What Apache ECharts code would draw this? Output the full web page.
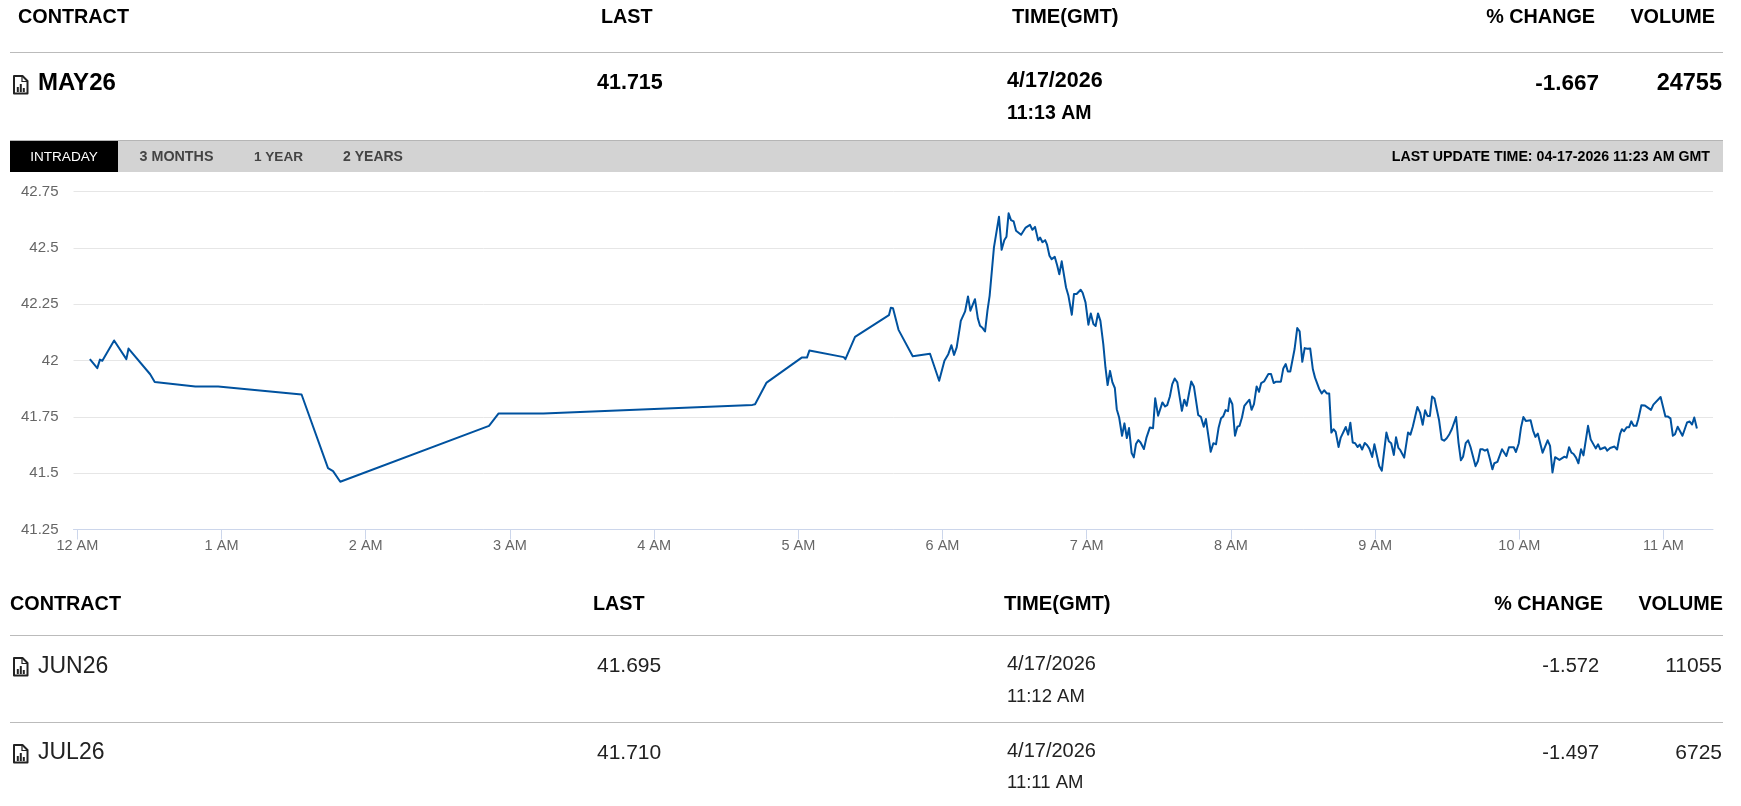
<!DOCTYPE html>
<html><head><meta charset="utf-8">
<style>html,body{margin:0;padding:0;background:#fff;overflow:hidden}#c{width:1741px;height:806px}</style>
<script src="https://cdn.jsdelivr.net/npm/echarts@6/dist/echarts.min.js"></script>
</head><body><div id="c"></div>
<script>
const columns = ["CONTRACT","LAST","TIME(GMT)","% CHANGE","VOLUME"];
const contracts = ["MAY26","JUN26","JUL26"];
const lastPrices = ["41.715","41.695","41.710"];
const tradeDates = ["4/17/2026","4/17/2026","4/17/2026"];
const tradeTimes = ["11:13 AM","11:12 AM","11:11 AM"];
const pctChanges = ["-1.667","-1.572","-1.497"];
const volumes = ["24755","11055","6725"];
const tabs = ["INTRADAY","3 MONTHS","1 YEAR","2 YEARS"];
const updateText = "LAST UPDATE TIME: 04-17-2026 11:23 AM GMT";
const hourTicks = [0,60,120,180,240,300,360,420,480,540,600,660];
const hourLabels = ["12 AM","1 AM","2 AM","3 AM","4 AM","5 AM","6 AM","7 AM","8 AM","9 AM","10 AM","11 AM"];
const minutes = [5.2,8.3,9.4,10.4,15.3,20.4,21.3,30.3,32.2,49.1,58.6,93.3,104.3,106.4,109.4,171.3,175.3,193.9,280.9,282,286.8,301.4,303.6,304.6,318.9,319.6,323.6,337.7,338.5,339.4,341.7,347.6,354.8,358.6,360.8,362.4,363.7,364.8,365.9,
367.3,367.6,369.4,370.6,371.6,373.5,374.7,375.6,376.7,377.7,378.7,379.6,381.4,383.5,384.6,385.7,386.6,387.5,388.5,389.6,390.6,392.7,394.6,396.4,397.4,398.5,399.8,400.6,401.6,402.7,403.5,404.5,405.4,406.7,407.7,408.6,409.6,411.4,412.4,413.8,414.7,415.8,417.5,418.3,419.5,420.7,421.7,422.8,423.7,424.7,425.7,426.9,427.8,428.7,429.7,430.7,431.7,432.5,433.5,434.7,435.7,436.7,437.6,438.7,439.6,
440.5,441.5,442.4,443.8,444.9,446.3,447.6,448.5,449.7,451.5,452.6,453.5,454.6,455.6,456.6,457.7,459.6,460.6,461.6,463.5,464.6,466.4,467.5,468.7,469.6,471.6,472.7,473.8,474.9,475.9,476.8,477.8,478.8,479.5,480.6,481.7,482.7,483.6,484.6,485.6,486.5,487.7,488.6,489.6,490.7,491.7,492.6,493.8,495.6,496.7,497.8,498.8,500.8,501.8,502.8,503.7,504.7,506.5,507.6,508.6,509.7,510.7,511.8,513,
514.1,515,515.7,516.7,517.8,518.8,519.9,520.9,521.8,522.7,523.6,524.8,525.7,527.8,528.8,529.7,530.7,531.7,532.7,533.6,534.6,535.7,536.7,537.6,538.8,539.7,541.7,542.8,544.7,545.7,546.7,547.8,548.7,549.7,550.5,552.1,552.8,553.7,554.7,555.7,557.6,558.7,559.8,560.8,561.8,562.8,563.7,564.7,566.6,567.7,568.7,569.8,570.9,571.9,572.7,573.7,574.7,575.7,576.6,577.7,578.7,579.7,581.8,
582.8,583.8,584.8,585.7,586.7,587.8,588.8,589.6,590.9,592.8,594.6,595.7,597.7,598.6,599.8,600.7,601.7,602.7,604.7,605.7,606.7,607.7,609.7,611.8,612.8,613.8,614.9,616.7,618.8,619.7,620.7,621.7,622.6,623.6,624.6,625.7,626.7,628.6,629.7,630.5,631.8,632.8,633.7,635.7,636.6,637.8,639.6,640.7,641.9,642.7,643.6,644.7,645.7,646.6,647.6,648.7,649.5,650.8,652.3,654.8,655.8,656.6,658.8,660.8,661.7,662.9,663.9,664.8,665.9,667.9,669.8,670.9,671.9,672.8,673.9];
const prices = [42.006,41.966,42.004,41.999,42.089,42.006,42.053,41.939,41.905,41.885,41.885,41.849,41.522,41.509,41.462,41.71,41.765,41.765,41.803,41.806,41.902,42.013,42.013,42.044,42.015,42.006,42.105,42.201,42.234,42.232,42.136,42.019,42.03,41.91,41.999,42.028,42.068,42.025,42.058,
42.154,42.176,42.218,42.284,42.221,42.272,42.187,42.154,42.144,42.129,42.221,42.287,42.502,42.638,42.491,42.534,42.549,42.653,42.623,42.617,42.576,42.558,42.59,42.602,42.58,42.593,42.533,42.546,42.525,42.534,42.514,42.465,42.45,42.46,42.423,42.383,42.44,42.324,42.287,42.203,42.295,42.295,42.314,42.301,42.258,42.159,42.209,42.162,42.153,42.209,42.176,42.073,41.969,41.891,41.954,41.903,41.878,41.784,41.747,41.666,41.721,41.656,41.7,41.589,41.57,
41.629,41.647,41.636,41.607,41.659,41.703,41.699,41.832,41.755,41.814,41.796,41.802,41.84,41.895,41.92,41.903,41.777,41.826,41.799,41.907,41.885,41.758,41.75,41.706,41.74,41.595,41.633,41.628,41.703,41.744,41.752,41.78,41.775,41.832,41.806,41.666,41.706,41.71,41.747,41.799,41.811,41.826,41.781,41.806,41.885,41.861,41.9,41.907,41.94,41.94,41.9,41.906,41.906,41.965,41.984,41.951,41.951,42.051,42.144,42.129,41.994,42.055,42.052,42.053,
41.961,41.924,41.931,41.875,41.854,41.868,41.854,41.854,41.68,41.695,41.683,41.616,41.658,41.705,41.671,41.724,41.636,41.633,41.616,41.627,41.605,41.634,41.624,41.609,41.572,41.628,41.532,41.511,41.68,41.642,41.633,41.581,41.659,41.612,41.602,41.569,41.569,41.68,41.671,41.707,41.794,41.769,41.715,41.779,41.754,41.754,41.84,41.831,41.736,41.65,41.644,41.655,41.673,41.695,41.701,41.749,41.636,41.557,41.573,41.633,41.646,41.616,41.531,
41.554,41.606,41.606,41.6,41.606,41.562,41.517,41.544,41.55,41.606,41.576,41.615,41.615,41.594,41.633,41.702,41.749,41.732,41.735,41.69,41.661,41.676,41.591,41.646,41.621,41.503,41.571,41.559,41.573,41.569,41.615,41.591,41.585,41.569,41.544,41.606,41.579,41.71,41.65,41.655,41.61,41.628,41.606,41.615,41.6,41.612,41.618,41.605,41.673,41.695,41.686,41.704,41.704,41.73,41.71,41.71,41.739,41.801,41.8,41.781,41.804,41.801,41.838,41.751,41.752,41.743,41.666,41.673,41.706,41.666,41.725,41.729,41.716,41.747,41.698];

const FONT = '"Liberation Sans", Arial, sans-serif';
const gfx = [];
function txt(s, x, y, size, weight, fill, align) {
  gfx.push({type:'text', x, y:y+1.5, silent:true, style:{text:s, fontFamily:FONT, fontSize:size, fontWeight:weight, fill:fill||'#000', textAlign:align||'left', textVerticalAlign:'middle'}});
}
function rule(x, y, w, h, color) { gfx.push({type:'rect', silent:true, shape:{x, y, width:w, height:h}, style:{fill:color}}); }
function icon(x, y) {
  gfx.push({type:'group', x, y, silent:true, children:[
    {type:'polygon', shape:{points:[[1,1],[9.5,1],[14.5,6],[14.5,18.5],[1,18.5]]}, style:{fill:'none', stroke:'#222', lineWidth:2, lineJoin:'round'}},
    {type:'polyline', shape:{points:[[9,1.5],[9,6.5],[14,6.5]]}, style:{fill:'none', stroke:'#222', lineWidth:1.2}},
    {type:'rect', shape:{x:3.8,y:12,width:2,height:5}, style:{fill:'#222'}},
    {type:'rect', shape:{x:6.8,y:9,width:2,height:8}, style:{fill:'#222'}},
    {type:'rect', shape:{x:9.8,y:13,width:2,height:4}, style:{fill:'#222'}}
  ]});
}
// top table
const H1 = 19.8;
txt(columns[0], 18, 16, H1, 'bold'); txt(columns[1], 601, 16, H1, 'bold'); txt(columns[2], 1012, 16, 20.2, 'bold');
txt(columns[3], 1595, 16, H1, 'bold', '#000', 'right'); txt(columns[4], 1715, 16, H1, 'bold', '#000', 'right');
rule(10, 52, 1713, 1, '#bbb');
icon(13, 75);
txt(contracts[0], 38, 82, 24, 'bold'); txt(lastPrices[0], 597, 82, 21.5, 'bold');
txt(tradeDates[0], 1007, 80, 21.5, 'bold'); txt(tradeTimes[0], 1007, 112, 19.5, 'bold');
txt(pctChanges[0], 1599, 82, 22.5, 'bold', '#000', 'right'); txt(volumes[0], 1722, 82, 23.5, 'bold', '#000', 'right');
// tab bar
rule(10, 140, 1713, 32, '#d3d3d3'); rule(10, 140, 1713, 1, '#b5b5b5');
rule(10, 141, 108, 31, '#000');
const tabX = [64, 176.5, 278.5, 373];
const tabSizes = [13.6, 14.3, 13.6, 14];
tabs.forEach((t,i)=>{ txt(t, tabX[i], 156, tabSizes[i], i?'bold':'normal', i?'#444':'#fff', 'center'); });
txt(updateText, 1710, 156, 14.2, 'bold', '#000', 'right');
// bottom table
txt(columns[0], 10, 603, H1, 'bold'); txt(columns[1], 593, 603, H1, 'bold'); txt(columns[2], 1004, 603, 20.2, 'bold');
txt(columns[3], 1603, 603, H1, 'bold', '#000', 'right'); txt(columns[4], 1723, 603, H1, 'bold', '#000', 'right');
rule(10, 635, 1713, 1, '#bbb'); rule(10, 722, 1713, 1, '#bbb');
[[1,665,663,695,657],[2,751.5,750,781,744]].forEach(r=>{
  const i=r[0];
  icon(13, r[4]);
  txt(contracts[i], 38, r[1], 23, 'normal', '#222'); txt(lastPrices[i], 597, r[1], 21, 'normal', '#222');
  txt(tradeDates[i], 1007, r[2], 20, 'normal', '#222'); txt(tradeTimes[i], 1007, r[3], 18.5, 'normal', '#222');
  txt(pctChanges[i], 1599, r[1], 20, 'normal', '#222', 'right'); txt(volumes[i], 1722, r[1], 21, 'normal', '#222', 'right');
});

const chart = echarts.init(document.getElementById('c'), null, {renderer:'canvas'});
chart.setOption({
  animation:false,
  backgroundColor:'#fff',
  graphic:{elements:gfx},
  grid:{left:73.5, right:28, top:191.5, bottom:276.5, containLabel:false},
  xAxis:{type:'value', min:-1.6, max:680.6, splitLine:{show:false},
    axisLine:{show:true, lineStyle:{color:'#ccd6eb', width:1}},
    axisTick:{show:true, length:10, lineStyle:{color:'#ccd6eb', width:1}, customValues:hourTicks},
    axisLabel:{color:'#666', fontFamily:FONT, fontSize:14.5, margin:9, customValues:hourTicks, showMinLabel:true, showMaxLabel:true,
      formatter:v=>hourLabels[hourTicks.indexOf(v)]}},
  yAxis:{type:'value', min:41.25, max:42.75, interval:0.25,
    axisLine:{show:false}, axisTick:{show:false},
    splitLine:{show:true, lineStyle:{color:'#e6e6e6', width:1}},
    axisLabel:{color:'#666', fontFamily:FONT, fontSize:15, margin:15, formatter:v=>String(+v.toFixed(2))}},
  series:[{type:'line', data:minutes.map((m,i)=>[m,prices[i]]), symbol:'none', showSymbol:false, smooth:false, sampling:null,
    lineStyle:{color:'#00529f', width:2, join:'round'}}]
});
</script></body></html>
